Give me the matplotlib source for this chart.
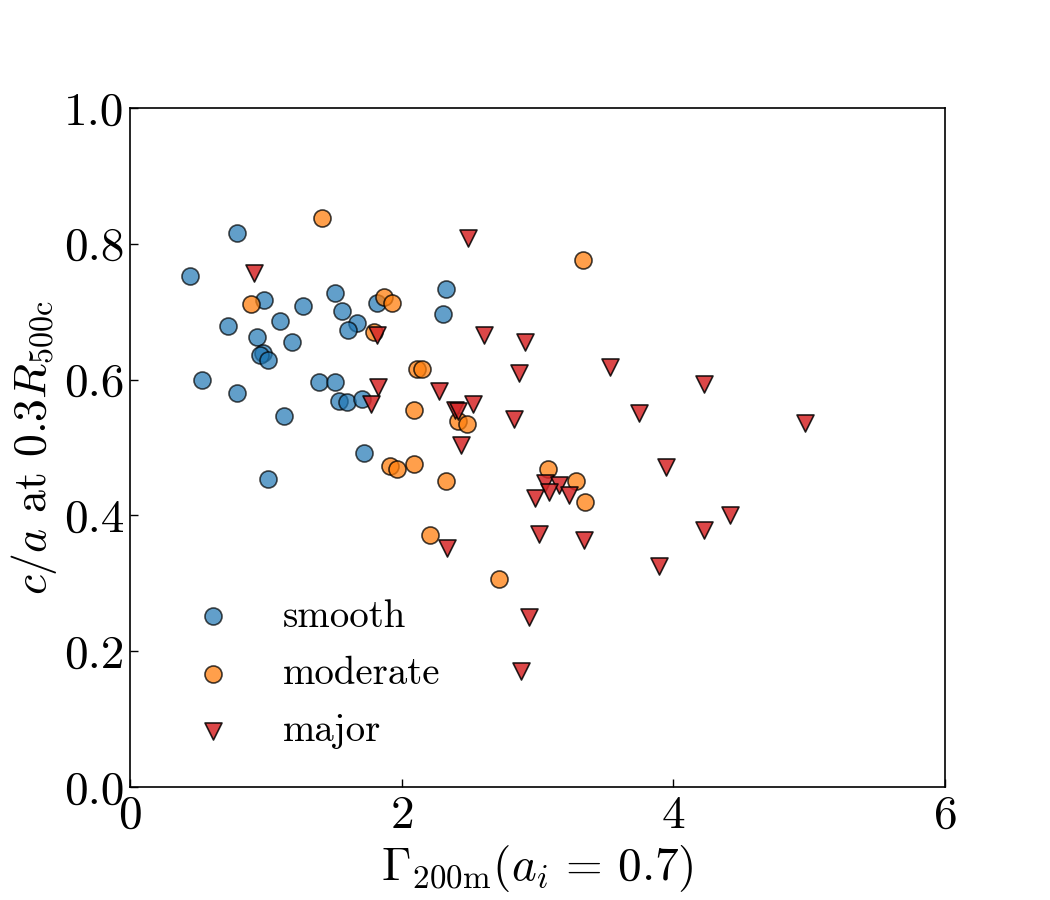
import matplotlib
matplotlib.use("Agg")
import matplotlib.pyplot as plt

plt.rcParams['font.family'] = 'cmr10'
plt.rcParams['mathtext.fontset'] = 'cm'
plt.rcParams['axes.formatter.use_mathtext'] = True

smooth_x = [0.442, 0.790, 0.982, 1.276, 1.509, 1.558, 1.816, 2.322, 2.307, 0.719,
            1.104, 0.937, 1.190, 1.668, 1.605, 0.977, 0.957, 1.013, 0.532, 0.790,
            1.387, 1.509, 1.536, 1.595, 1.706, 1.134, 1.723, 1.018]
smooth_y = [0.753, 0.8155, 0.717, 0.709, 0.728, 0.701, 0.713, 0.733, 0.697, 0.679,
            0.687, 0.662, 0.655, 0.683, 0.673, 0.639, 0.636, 0.629, 0.599, 0.580,
            0.596, 0.596, 0.569, 0.567, 0.571, 0.546, 0.492, 0.454]

moderate_x = [1.411, 0.893, 1.870, 1.926, 1.796, 2.115, 2.147, 2.093, 2.417, 2.483,
              1.914, 1.963, 2.093, 2.326, 3.337, 2.209, 2.714, 3.076, 3.282, 3.351]
moderate_y = [0.838, 0.712, 0.722, 0.713, 0.670, 0.616, 0.615, 0.555, 0.539, 0.535,
              0.473, 0.468, 0.476, 0.451, 0.776, 0.371, 0.307, 0.468, 0.451, 0.420]

major_x = [0.913, 2.491, 1.821, 1.828, 1.772, 2.275, 2.395, 2.415, 2.523, 2.437,
           2.606, 2.910, 2.864, 3.534, 2.825, 3.750, 3.948, 3.058, 3.160, 3.082,
           2.983, 3.234, 3.013, 3.342, 2.331, 3.892, 4.226, 4.417, 4.226, 4.970,
           2.937, 2.878]
major_y = [0.757, 0.809, 0.666, 0.589, 0.564, 0.583, 0.555, 0.553, 0.564, 0.504,
           0.666, 0.656, 0.610, 0.619, 0.542, 0.551, 0.471, 0.448, 0.445, 0.434,
           0.426, 0.430, 0.373, 0.363, 0.352, 0.325, 0.593, 0.401, 0.379, 0.536,
           0.250, 0.171]

fig = plt.figure(figsize=(10.5, 9), dpi=100)
ax = fig.add_axes([0.124, 0.1256, 0.776, 0.7544])

ms = 150
ax.scatter(smooth_x, smooth_y, s=ms, marker='o', color='#1f77b4', alpha=0.7,
           edgecolors='black', linewidths=1.2, label='smooth')
ax.scatter(moderate_x, moderate_y, s=ms, marker='o', color='#ff7f0e', alpha=0.75,
           edgecolors='black', linewidths=1.2, label='moderate')
ax.scatter(major_x, major_y, s=ms, marker='v', color='#d62728', alpha=0.85,
           edgecolors='black', linewidths=1.2, label='major')

ax.set_xlim(0, 6)
ax.set_ylim(0, 1)
ax.set_xticks([0, 2, 4, 6])
ax.set_yticks([0.0, 0.2, 0.4, 0.6, 0.8, 1.0])
ax.set_yticklabels(['0.0', '0.2', '0.4', '0.6', '0.8', '1.0'])
ax.tick_params(direction='in', labelsize=34, length=6, width=1, pad=6)
ax.tick_params(axis='y', pad=4)
for sp in ax.spines.values():
    sp.set_linewidth(1.2)

ax.set_xlabel(r'$\Gamma_{\rm 200m}(a_i\,=\,0.7)$', fontsize=34)
ax.set_ylabel(r'$c/a$ at $0.3R_{\rm 500c}$', fontsize=33)

ax.legend(loc='lower left', frameon=False, fontsize=28, handletextpad=0.8,
          labelspacing=0.55, borderaxespad=0.0, bbox_to_anchor=(0.035, 0.033))

fig.savefig('out.png', dpi=100)
